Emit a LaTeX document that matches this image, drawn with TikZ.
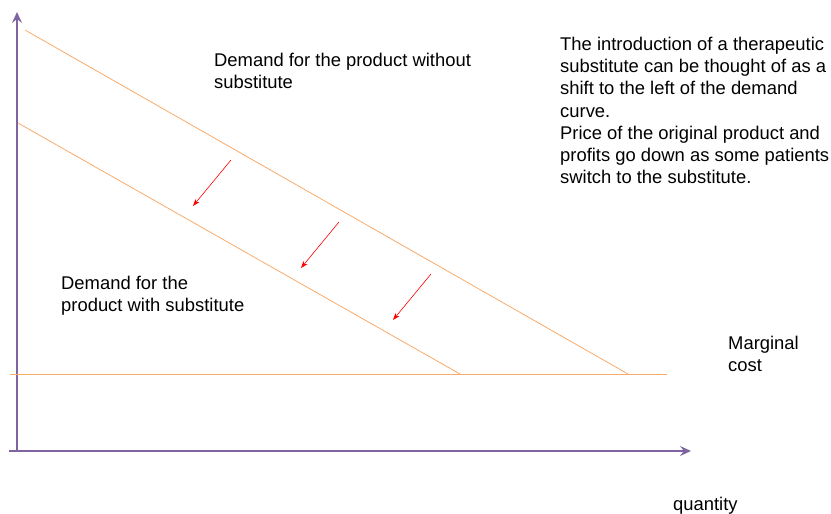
\documentclass[tikz,border=0pt]{standalone}
\usepackage{fontspec}
\setmainfont{Liberation Sans}
\usetikzlibrary{arrows.meta}
\definecolor{axispurple}{HTML}{8064A2}
\definecolor{curveorange}{HTML}{F79646}
\definecolor{shiftred}{HTML}{FF0000}
\begin{document}
\begin{tikzpicture}[x=1pt,y=-1pt,
  axis/.style={draw=axispurple,line width=2.6pt,-{Stealth[length=11pt,width=10pt,inset=4pt]}},
  curve/.style={draw=curveorange!80,line width=0.8pt},
  shiftarrow/.style={draw=shiftred,line width=0.6pt,-{Stealth[length=7pt,width=5pt,inset=2pt]}},
  label/.style={font=\fontsize{18.4}{22.2}\selectfont,align=left,anchor=base west,inner sep=0pt}]
\useasboundingbox (0,0) rectangle (831,514);
% axes
\coordinate (origin) at (17,451);
\coordinate (ytop) at (17,12);
\coordinate (xend) at (691,451);
\coordinate (xstart) at (9,451);
\draw[draw=axispurple,line width=2.6pt] (xstart) -- (origin);
\draw[axis] (origin) -- (ytop);
\draw[axis] (origin) -- (xend);
% marginal cost
\coordinate (mc0) at (10,374);
\coordinate (mc1) at (667,374);
\draw[curve] (mc0) -- (mc1);
% demand curves
\coordinate (d1a) at (25,30);
\coordinate (d1b) at (628,374);
\coordinate (d2a) at (18,123);
\coordinate (d2b) at (460,374);
\draw[curve] (d1a) -- (d1b);
\draw[curve] (d2a) -- (d2b);
% shift arrows
\coordinate (s1a) at (231,160); \coordinate (s1b) at (193,206);
\coordinate (s2a) at (339,222); \coordinate (s2b) at (301,268);
\coordinate (s3a) at (431,274); \coordinate (s3b) at (393,320);
\draw[shiftarrow] (s1a) -- (s1b);
\draw[shiftarrow] (s2a) -- (s2b);
\draw[shiftarrow] (s3a) -- (s3b);
% labels (positions are the baselines of the last lines)
\node[label] (without) at (214,88.2) {Demand for the product without\\substitute};
\node[label] (with) at (61,311.2) {Demand for the\\product with substitute};
\node[label] (mc) at (728,371.2) {Marginal\\cost};
\node[label] (qty) at (673,510) {quantity};
\node[label] (note) at (560,183.7) {The introduction of a therapeutic\\substitute can be thought of as a\\shift to the left of the demand\\curve.\\Price of the original product and\\profits go down as some patients\\switch to the substitute.};
\end{tikzpicture}
\end{document}
